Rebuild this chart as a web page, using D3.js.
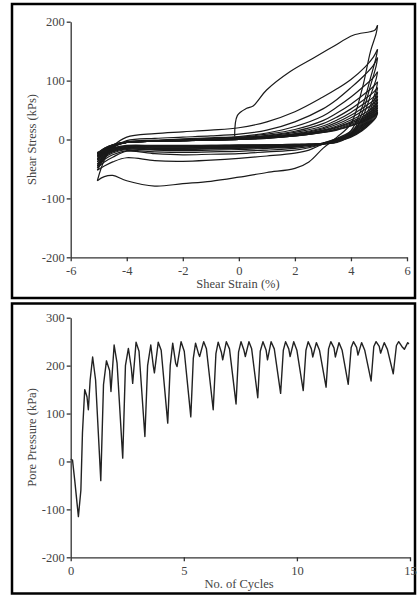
<!DOCTYPE html>
<html lang="en">
<head>
<meta charset="utf-8">
<title>Cyclic shear test</title>
<script src="https://d3js.org/d3.v7.min.js"></script>
<style>
  body{ margin:0; background:#fff; }
  svg text{ font-family:"Liberation Serif","Times New Roman",serif !important; fill:#444; }
  .axis path, .axis line{ stroke:#333; stroke-width:1.3; }
  .axis text{ font-size:12.5px; fill:#444; }
</style>
</head>
<body>
<svg id="chart" width="417" height="597"></svg>
<script>
// tick labels
var strainTicks = [-6, -4, -2, 0, 2, 4, 6];
var stressTicks = [-200, -100, 0, 100, 200];
var cycleTicks = [0, 5, 10, 15];
var poreTicks = [-200, -100, 0, 100, 200, 300];

// first loading from rest
var firstStrain = [-0.15, -0.05, 0.28, 0.51, 0.99, 1.82, 2.65, 3.37, 4.08, 4.68, 4.86, 4.95];
var firstStress = [5, 41, 53, 57, 84, 115, 138, 158, 177, 183, 186, 194];

// strain stations of the loading (-5 -> +5) and unloading (+5 -> -5) branches
var loadStrain = [-4.8, -4.5, -4, -3, -2, -1, 0, 1, 2, 3, 3.5, 4, 4.5, 4.8, 4.95];
var unloadStrain = [4.9, 4.7, 4.4, 4, 3.5, 3, 2.5, 2, 1, 0, -1, -2, -3, -4, -4.5, -4.8, -5.05];

// loading branches, cycles 2..15 (kPa)
var loadStress = [
  [-35, -12, 4, 10, 13, 16, 20, 30, 47, 72, 86, 102, 123, 140, 153],
  [-32, -14, -2, 2, 4, 6, 9, 16, 30, 52, 68, 88, 110, 126, 139],
  [-30, -14, -4, -1, 1, 3, 5, 11, 22, 40, 55, 72, 92, 105, 115],
  [-28, -13, -5, -2, 0, 2, 4, 9, 17, 32, 45, 60, 78, 90, 98],
  [-26, -13, -5, -3, -1, 1, 3, 7, 14, 27, 38, 52, 69, 80, 88],
  [-24, -12, -5, -3, -1, 0, 2, 6, 12, 23, 33, 46, 62, 72, 80],
  [-22, -11, -5, -3, -2, 0, 2, 5, 10, 20, 29, 41, 56, 66, 74],
  [-20, -11, -5, -3, -2, 0, 1, 4, 9, 18, 26, 37, 51, 61, 68],
  [-19, -10, -5, -3, -2, -1, 1, 4, 8, 16, 23, 33, 45, 55, 63],
  [-18, -10, -5, -3, -2, -1, 1, 3, 7, 15, 21, 30, 41, 51, 58],
  [-17, -10, -5, -3, -2, -1, 0, 3, 7, 14, 20, 28, 38, 47, 54],
  [-16, -9, -5, -3, -2, -1, 0, 3, 6, 13, 18, 26, 35, 44, 50],
  [-15, -9, -5, -3, -2, -1, 0, 2, 6, 12, 17, 24, 33, 41, 47],
  [-15, -9, -5, -3, -2, -1, 0, 2, 6, 12, 16, 23, 31, 39, 45]
];

// unloading branches, cycles 1..15 (kPa)
var unloadStress = [
  [180, 150, 86, 27, 4, -15, -38, -49, -56, -64, -71, -75, -79, -70, -61, -63, -70],
  [140, 105, 55, 15, -2, -8, -18, -23, -28, -32, -35, -37, -36, -31, -38, -45, -52],
  [125, 92, 45, 10, -4, -8, -14, -18, -21, -24, -25, -26, -24, -20, -30, -38, -48],
  [103, 75, 36, 7, -5, -8, -12, -15, -18, -20, -21, -22, -21, -19, -26, -34, -45],
  [85, 58, 32, 14, 2, -6, -10, -13, -15, -17, -18, -19, -18, -17, -23, -31, -42],
  [76, 52, 29, 12, 1, -6, -9, -12, -14, -15, -16, -17, -17, -16, -21, -29, -38],
  [69, 47, 27, 11, 0, -7, -9, -11, -13, -14, -15, -16, -16, -15, -20, -27, -35],
  [63, 44, 25, 10, 0, -7, -9, -11, -12, -13, -14, -15, -15, -14, -19, -25, -33],
  [58, 41, 23, 9, -1, -7, -9, -10, -11, -12, -13, -14, -14, -14, -18, -24, -30],
  [54, 38, 21, 8, -1, -7, -9, -10, -11, -12, -13, -13, -13, -13, -17, -23, -28],
  [50, 35, 20, 7, -2, -7, -9, -10, -11, -11, -12, -12, -12, -12, -16, -22, -27],
  [46, 33, 18, 6, -2, -7, -9, -9, -10, -11, -11, -12, -12, -12, -16, -21, -25],
  [43, 31, 17, 5, -2, -7, -8, -9, -10, -10, -11, -11, -11, -11, -15, -20, -24],
  [40, 29, 16, 5, -2, -7, -8, -9, -9, -10, -10, -11, -11, -11, -15, -19, -23],
  [38, 27, 15, 4, -3, -7, -8, -8, -9, -9, -10, -10, -10, -10, -14, -19, -22]
];

// pore pressure history
var cycleNo = [0, 0.08, 0.18, 0.34, 0.45, 0.52, 0.62, 0.72, 0.78, 0.86, 0.97, 1.1, 1.33,
  1.45, 1.58, 1.72, 1.78, 1.92, 2.05, 2.30,
  2.42, 2.55, 2.68, 2.74, 2.89, 3.02, 3.28,
  3.40, 3.54, 3.65, 3.70, 3.87, 4.0, 4.29,
  4.40, 4.51, 4.64, 4.70, 4.88, 5.02, 5.31,
  5.42, 5.52, 5.65, 5.70, 5.88, 6.0, 6.30,
  6.42, 6.52, 6.66, 6.72, 6.88, 7.02, 7.31,
  7.42, 7.53, 7.66, 7.72, 7.88, 8.0, 8.27,
  8.38, 8.5, 8.64, 8.70, 8.86, 9.0, 9.28,
  9.4, 9.5, 9.64, 9.70, 9.86, 10.0, 10.28,
  10.4, 10.5, 10.64, 10.70, 10.86, 11.0, 11.29,
  11.4, 11.5, 11.64, 11.70, 11.86, 12.0, 12.27,
  12.4, 12.5, 12.64, 12.70, 12.86, 13.0, 13.28,
  13.4, 13.5, 13.64, 13.70, 13.86, 14.0, 14.26,
  14.4, 14.5, 14.64, 14.75, 14.9, 14.95];
var porePressure = [5, 3, -40, -115, -60, 60, 150, 135, 108, 170, 218, 170, -40,
  160, 210, 190, 146, 243, 205, 7,
  200, 236, 195, 163, 249, 230, 52,
  200, 243, 200, 185, 249, 232, 80,
  200, 247, 205, 198, 250, 230, 93,
  215, 247, 225, 219, 250, 235, 108,
  225, 249, 228, 212, 250, 235, 120,
  228, 250, 232, 219, 250, 235, 133,
  230, 250, 232, 212, 250, 235, 142,
  232, 250, 235, 219, 250, 232, 148,
  232, 250, 235, 218, 248, 232, 155,
  235, 250, 237, 218, 248, 232, 161,
  238, 250, 238, 222, 248, 232, 168,
  240, 250, 240, 226, 248, 234, 183,
  242, 250, 240, 234, 248, 245];

var serif = "'Liberation Serif','Times New Roman',serif";
var svg = d3.select("#chart");

// panel frames
svg.append("rect").attr("x", 12).attr("y", 4).attr("width", 403).attr("height", 294)
   .attr("fill", "none").attr("stroke", "#000").attr("stroke-width", 2.5);
svg.append("rect").attr("x", 12).attr("y", 303.5).attr("width", 403).attr("height", 290)
   .attr("fill", "none").attr("stroke", "#000").attr("stroke-width", 2.5);

function fmt(d){ return String(d); }

function styleAxis(g){
  g.attr("font-family", serif).attr("font-size", 12.5);
  g.selectAll("text").style("font-family", serif).style("font-size", "12.5px").attr("fill", "#444");
}

// ---- top: stress-strain loops
var x1 = d3.scaleLinear().domain([-6, 6]).range([70.7, 407]);
var y1 = d3.scaleLinear().domain([-200, 200]).range([257.3, 21.7]);

var branches = [];
var first = firstStrain.map(function(s, i){ return [s, firstStress[i]]; });
branches.push(first);
var last = first[first.length - 1];
for (var c = 0; c < unloadStress.length; c++) {
  var un = [last].concat(unloadStrain.map(function(s, i){ return [s, unloadStress[c][i]]; }));
  branches.push(un);
  last = un[un.length - 1];
  if (c < loadStress.length) {
    var ld = [last].concat(loadStrain.map(function(s, i){ return [s, loadStress[c][i]]; }));
    branches.push(ld);
    last = ld[ld.length - 1];
  }
}

var loopLine = d3.line()
  .x(function(d){ return x1(d[0]); })
  .y(function(d){ return y1(d[1]); })
  .curve(d3.curveCatmullRom.alpha(0.5));

svg.append("g").selectAll("path")
   .data(branches)
   .enter()
   .append("path")
   .attr("d", loopLine)
   .attr("fill", "none")
   .attr("stroke", "#1a1a1a")
   .attr("stroke-width", 1.2);

svg.append("g").attr("class", "axis")
   .attr("transform", "translate(70.7,0)")
   .call(d3.axisLeft(y1).tickValues(stressTicks).tickFormat(fmt)
         .tickSize(4).tickSizeOuter(0).tickPadding(2))
   .call(styleAxis);
svg.append("g").attr("class", "axis")
   .attr("transform", "translate(0,257.3)")
   .call(d3.axisBottom(x1).tickValues(strainTicks).tickFormat(fmt)
         .tickSize(4).tickSizeOuter(0).tickPadding(5))
   .call(styleAxis);

svg.append("text").text("Shear Strain (%)")
   .attr("x", 238).attr("y", 288).attr("text-anchor", "middle")
   .style("font-family", serif).style("font-size", "12.5px");
svg.append("text").text("Shear Stress (kPs)")
   .attr("transform", "translate(36,139.5) rotate(-90)")
   .attr("text-anchor", "middle")
   .style("font-family", serif).style("font-size", "12.5px");

// ---- bottom: pore pressure
var x2 = d3.scaleLinear().domain([0, 15]).range([70.7, 410]);
var y2 = d3.scaleLinear().domain([-200, 300]).range([557.3, 317.7]);

var poreLine = d3.line()
  .x(function(d, i){ return x2(cycleNo[i]); })
  .y(function(d){ return y2(d); });

svg.append("path")
   .datum(porePressure)
   .attr("d", poreLine)
   .attr("fill", "none")
   .attr("stroke", "#222")
   .attr("stroke-width", 1.4)
   .attr("stroke-linejoin", "round");

svg.append("g").attr("class", "axis")
   .attr("transform", "translate(70.7,0)")
   .call(d3.axisLeft(y2).tickValues(poreTicks).tickFormat(fmt)
         .tickSize(4).tickSizeOuter(0).tickPadding(2))
   .call(styleAxis);
svg.append("g").attr("class", "axis")
   .attr("transform", "translate(0,557.3)")
   .call(d3.axisBottom(x2).tickValues(cycleTicks).tickFormat(fmt)
         .tickSize(4).tickSizeOuter(0).tickPadding(5))
   .call(styleAxis);

svg.append("text").text("No. of Cycles")
   .attr("x", 239).attr("y", 588).attr("text-anchor", "middle")
   .style("font-family", serif).style("font-size", "12.5px");
svg.append("text").text("Pore Pressure (kPa)")
   .attr("transform", "translate(36,437.5) rotate(-90)")
   .attr("text-anchor", "middle")
   .style("font-family", serif).style("font-size", "12.5px");
</script>
</body>
</html>
